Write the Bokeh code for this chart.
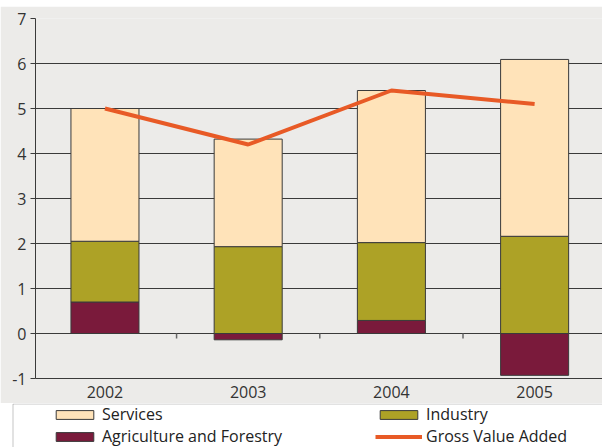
import numpy as np
from bokeh.plotting import figure
from bokeh.models import Range1d, FixedTicker, Legend, LegendItem, BoxAnnotation, Spacer
from bokeh.layouts import column
from bokeh.embed import file_html
from bokeh.resources import INLINE

# ---- data ----
years = ["2002", "2003", "2004", "2005"]
agriculture = [0.70, -0.14, 0.29, -0.93]
industry = [1.35, 1.93, 1.73, 2.16]
services = [2.95, 2.39, 3.38, 3.93]
gross_value_added = [5.0, 4.2, 5.4, 5.1]
y_ticks = [-1, 0, 1, 2, 3, 4, 5, 6, 7]
y_tick_labels = ["-1", "0", "1", "2", "3", "4", "5", "6", "7"]

# ---- styles ----
BG = "#ECEBE9"
C_SERV = "#FFE3B9"
C_IND = "#ADA226"
C_AGR = "#7A1A3B"
C_GVA = "#E85A26"
EDGE = "#3a3a3a"
FONT = "Open Sans"

x = np.arange(len(years))
a = np.array(agriculture)
agri_bottom = np.minimum(a, 0)
agri_top = np.maximum(a, 0)
ind_bottom = agri_top
ind_top = ind_bottom + np.array(industry)
serv_bottom = ind_top
serv_top = serv_bottom + np.array(services)

p = figure(width=602, height=397, x_range=Range1d(-0.485, 3.474), y_range=Range1d(-1, 7),
           output_backend="svg", toolbar_location=None, tools="",
           min_border_left=35, min_border_right=0, min_border_top=12, min_border_bottom=25,
           border_fill_color=BG, background_fill_color=BG, outline_line_color=None)
p.frame_align = False

p.xgrid.visible = False
p.ygrid.ticker = FixedTicker(ticks=y_ticks)
p.ygrid.grid_line_color = EDGE
p.ygrid.grid_line_width = 1

p.yaxis.ticker = FixedTicker(ticks=y_ticks)
p.yaxis.major_label_overrides = {t: l for t, l in zip(y_ticks, y_tick_labels)}
p.yaxis.major_tick_out = 5
p.yaxis.major_tick_in = 0
p.yaxis.minor_tick_line_color = None
p.yaxis.axis_line_color = EDGE
p.yaxis.major_tick_line_color = EDGE
p.yaxis.major_label_text_font = FONT
p.yaxis.major_label_text_font_size = "16px"
p.yaxis.major_label_text_color = "#333333"
p.yaxis.major_label_standoff = 4

p.xaxis.ticker = FixedTicker(ticks=list(x))
p.xaxis.major_label_overrides = {int(i): y for i, y in zip(x, years)}
p.xaxis.major_tick_line_color = None
p.xaxis.minor_tick_line_color = None
p.xaxis.axis_line_color = EDGE
p.xaxis.major_label_text_font = FONT
p.xaxis.major_label_text_font_size = "16px"
p.xaxis.major_label_text_color = "#333333"
p.xaxis.major_label_standoff = 1

bw = 0.475
p.vbar(x=x, bottom=agri_bottom, top=agri_top, width=bw, fill_color=C_AGR, line_color=EDGE, line_width=1)
p.vbar(x=x, bottom=ind_bottom, top=ind_top, width=bw, fill_color=C_IND, line_color=EDGE, line_width=1)
p.vbar(x=x, bottom=serv_bottom, top=serv_top, width=bw, fill_color=C_SERV, line_color=EDGE, line_width=1)

# category boundary ticks on the zero line
bounds = x[:-1] + 0.5
p.segment(x0=bounds, y0=0, x1=bounds, y1=-0.11, line_color="#666666", line_width=1.5)

p.line(x=x, y=gross_value_added, line_color=C_GVA, line_width=4)

# ---- legend panel ----
lf = figure(width=602, height=44, x_range=Range1d(0, 602), y_range=Range1d(0, 44),
            output_backend="svg", toolbar_location=None, tools="",
            min_border=0, min_border_left=0, min_border_right=0, min_border_top=0, min_border_bottom=0,
            border_fill_color="white", background_fill_color="white", outline_line_color=None,
            x_axis_type=None, y_axis_type=None)
lf.frame_align = False
lf.grid.visible = False
lf.add_layout(BoxAnnotation(left=12.5, right=700, bottom=-20, top=43.5,
                            fill_color="white", fill_alpha=1, line_color=EDGE, line_width=1))

# hidden copies of the series, used only as legend swatches
r_s = lf.vbar(x=x, bottom=serv_bottom, top=serv_top, width=bw, fill_color=C_SERV, line_color=EDGE, line_width=1, visible=False)
r_i = lf.vbar(x=x, bottom=ind_bottom, top=ind_top, width=bw, fill_color=C_IND, line_color=EDGE, line_width=1, visible=False)
r_a = lf.vbar(x=x, bottom=agri_bottom, top=agri_top, width=bw, fill_color=C_AGR, line_color=EDGE, line_width=1, visible=False)
r_g = lf.line(x=x, y=gross_value_added, line_color=C_GVA, line_width=4, visible=False)

legend = Legend(items=[LegendItem(label="Services", renderers=[r_s]),
                       LegendItem(label="Agriculture and Forestry", renderers=[r_a]),
                       LegendItem(label="Industry", renderers=[r_i]),
                       LegendItem(label="Gross Value Added", renderers=[r_g])],
                location=(51, 0), orientation="vertical", ncols=2,
                padding=0, margin=0, spacing=0,
                border_line_color=None, background_fill_alpha=0,
                glyph_width=47, glyph_height=11, label_standoff=4,
                label_width=273, label_height=20,
                label_text_font=FONT, label_text_font_size="16px", label_text_color="#222222")
lf.add_layout(legend)

layout = column(Spacer(width=602, height=6), p, lf, spacing=0)

with open("out.html", "w") as f:
    f.write(file_html(layout, INLINE))
